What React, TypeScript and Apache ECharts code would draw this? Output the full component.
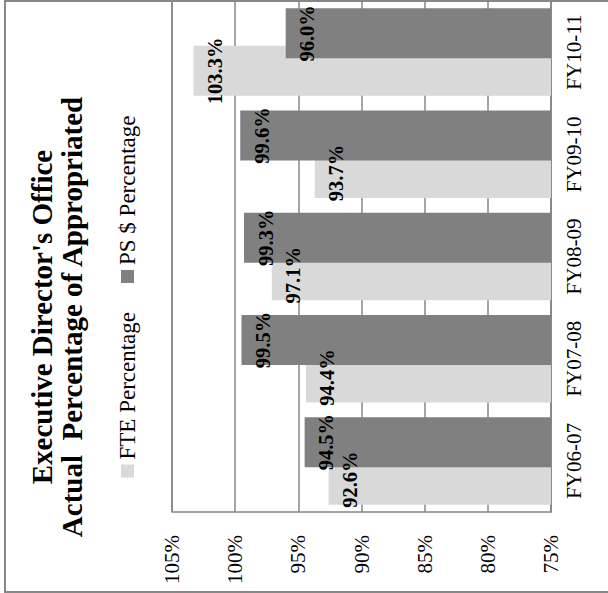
import React, { useEffect, useRef } from "react";
import * as echarts from "echarts";

const categories = ["FY06-07", "FY07-08", "FY08-09", "FY09-10", "FY10-11"];
const fteValues = [92.6, 94.4, 97.1, 93.7, 103.3];
const psValues = [94.5, 99.5, 99.3, 99.6, 96.0];
const seriesNames = ["FTE Percentage", "PS $ Percentage"];
const titleLines = ["Executive Director's Office", "Actual  Percentage of Appropriated"];
const axisMin = 75;
const axisMax = 105;
const axisStep = 5;

const SERIF = '"Liberation Serif", "Times New Roman", serif';
const GRAY = "#878787";

export default function App() {
  const ref = useRef<HTMLDivElement>(null);
  useEffect(() => {
    if (!ref.current) return;
    const chart = echarts.init(ref.current, null, { renderer: "svg" });
    const labelFmt = (p: any) => Number(p.value).toFixed(1) + "%";
    const labelStyle = {
      show: true,
      position: "insideTop",
      distance: 11,
      formatter: labelFmt,
      fontFamily: SERIF,
      fontWeight: "bold",
      fontSize: 20.5,
      color: "#000",
    };
    chart.setOption({
      animation: false,
      backgroundColor: "#ffffff",
      title: {
        text: titleLines.join("\n"),
        left: 276,
        top: 27,
        textAlign: "center",
        padding: 0,
        textStyle: {
          fontFamily: SERIF,
          fontWeight: "bold",
          fontSize: 29,
          lineHeight: 30,
          color: "#000",
        },
      },
      legend: {
        data: seriesNames,
        left: "center",
        top: 116,
        padding: [0, 0, 0, 10],
        itemWidth: 13,
        itemHeight: 13,
        itemGap: 29,
        icon: "rect",
        textStyle: { fontFamily: SERIF, fontSize: 23, color: "#000" },
      },
      grid: {
        left: 81,
        right: 1,
        top: 172,
        bottom: 57,
        show: true,
        borderColor: GRAY,
        borderWidth: 1.5,
        containLabel: false,
      },
      xAxis: {
        type: "category",
        data: categories,
        axisLine: { show: true, lineStyle: { color: GRAY, width: 1.5 } },
        axisTick: { show: false },
        axisLabel: { fontFamily: SERIF, fontSize: 21, color: "#000", margin: 12 },
      },
      yAxis: {
        type: "value",
        min: axisMin,
        max: axisMax,
        interval: axisStep,
        axisLine: { show: false },
        axisTick: { show: false },
        axisLabel: {
          fontFamily: SERIF,
          fontSize: 21,
          color: "#000",
          margin: 23,
          formatter: (v: number) => v + "%",
        },
        splitLine: { lineStyle: { color: GRAY, width: 1.5 } },
      },
      series: [
        {
          name: seriesNames[0],
          type: "bar",
          data: fteValues,
          barWidth: 50,
          barGap: "-25%",
          itemStyle: { color: "#d9d9d9" },
          label: labelStyle,
        },
        {
          name: seriesNames[1],
          type: "bar",
          data: psValues,
          barWidth: 50,
          barGap: "-25%",
          itemStyle: { color: "#808080" },
          label: labelStyle,
        },
      ],
      graphic: [
        {
          type: "rect",
          silent: true,
          z: 100,
          shape: { x: 1, y: 5, width: 591, height: 700 },
          style: { fill: "none", stroke: GRAY, lineWidth: 2 },
        },
      ],
    });
    return () => chart.dispose();
  }, []);

  return (
    <div
      style={{
        position: "fixed",
        left: 0,
        top: 0,
        width: 608,
        height: 593,
        overflow: "hidden",
        background: "#fff",
      }}
    >
      <div
        ref={ref}
        style={{
          position: "absolute",
          left: 0,
          top: 0,
          width: 593,
          height: 608,
          transformOrigin: "0 0",
          transform: "translate(0px, 593px) rotate(-90deg)",
        }}
      />
    </div>
  );
}
